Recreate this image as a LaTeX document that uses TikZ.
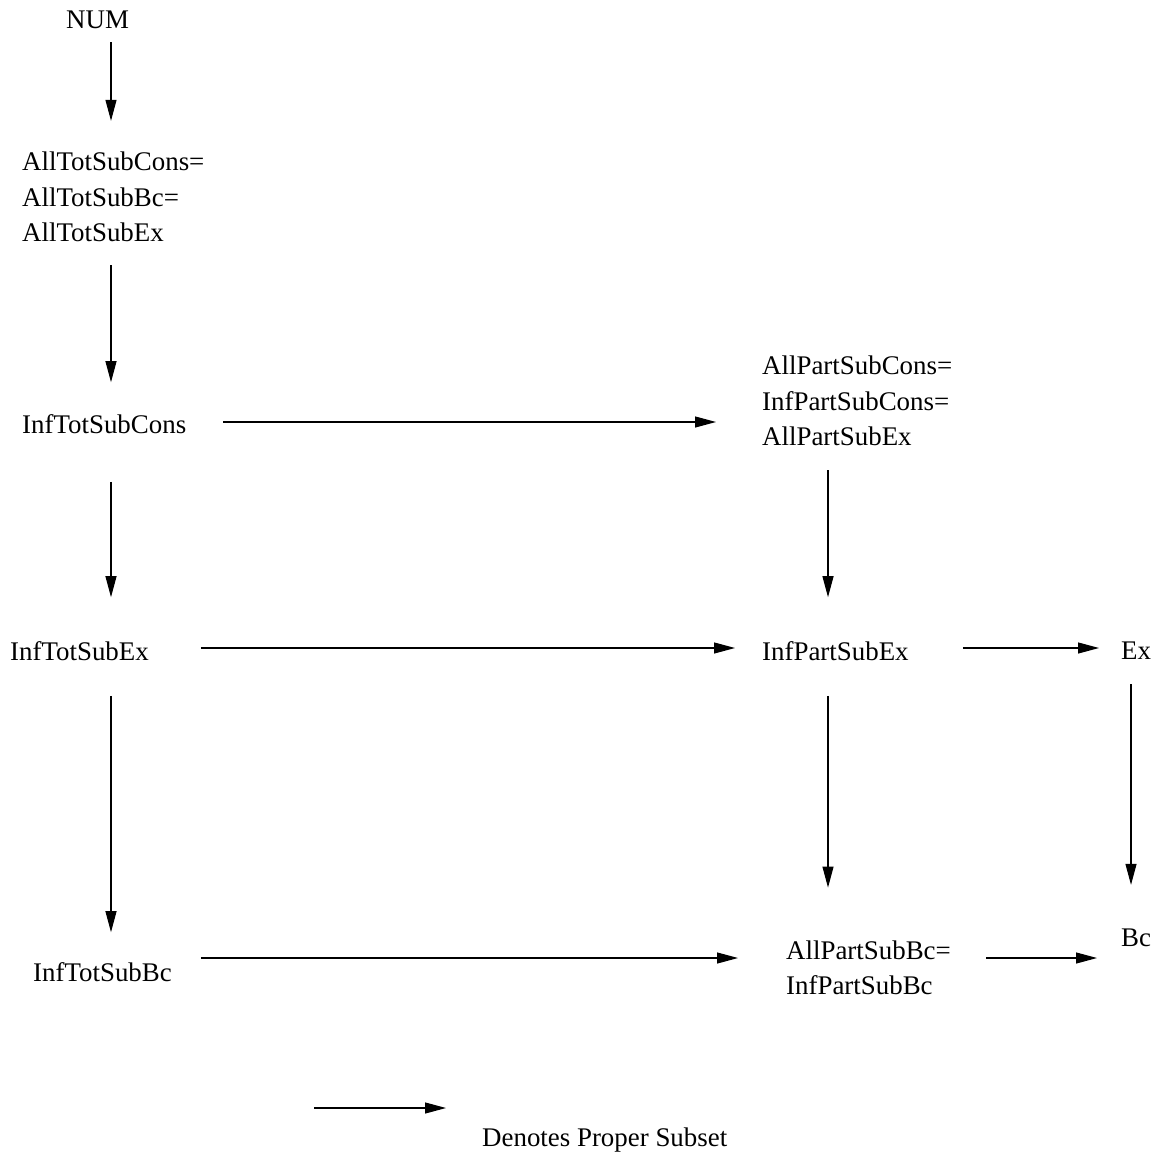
\documentclass[tikz,border=0pt]{standalone}
\usepackage{fontspec}
\setmainfont{Liberation Serif}
\usetikzlibrary{arrows.meta}

\tikzset{
  lbl/.style={anchor=west, inner sep=0pt, align=left, font=\fontsize{26.9}{35.5}\selectfont},
  sub/.style={line width=1.1pt, -{Triangle[length=21pt, width=11pt]}}
}

\begin{document}
\begin{tikzpicture}[x=1pt,y=1pt,yscale=-1,xscale=1]
\useasboundingbox (0,0) rectangle (1156,1158);

%Columns and rows of the connectors
\coordinate (colA) at (111,0);
\coordinate (colB) at (828,0);
\coordinate (colC) at (1131,0);
\coordinate (rowA) at (0,422);
\coordinate (rowB) at (0,648);
\coordinate (rowC) at (0,958);
\coordinate (keyStart) at (314,1108);

% Text Node
\node [lbl] (num) at (66,20) {NUM};
% Text Node
\node [lbl] (allTot) at (22,197) {AllTotSubCons=\\AllTotSubBc=\\AllTotSubEx};
% Text Node
\node [lbl] (infTotCons) at (22,424) {InfTotSubCons};
% Text Node
\node [lbl] (allPart) at (762,401) {AllPartSubCons=\\InfPartSubCons=\\AllPartSubEx};
% Text Node
\node [lbl] (infTotEx) at (10,651) {InfTotSubEx};
% Text Node
\node [lbl] (infPartEx) at (762,651) {InfPartSubEx};
% Text Node
\node [lbl] (ex) at (1121,651) {Ex};
% Text Node
\node [lbl] (infTotBc) at (33,972) {InfTotSubBc};
% Text Node
\node [lbl] (allPartBc) at (786,968) {AllPartSubBc=\\InfPartSubBc};
% Text Node
\node [lbl] (bc) at (1121,938) {Bc};
% Text Node
\node [lbl] (key) at (482,1140) {Denotes Proper Subset};

%Straight Lines
\draw [sub, shorten <=13, shorten >=31] (num.south -| colA) -- (allTot.north -| colA);
\draw [sub, shorten <=23, shorten >=32] (allTot.south -| colA) -- (infTotCons.north -| colA);
\draw [sub, shorten <=48, shorten >=44] (infTotCons.south -| colA) -- (infTotEx.north -| colA);
\draw [sub, shorten <=35, shorten >=30] (infTotEx.south -| colA) -- (infTotBc.north -| colA);
%Straight Lines
\draw [sub, shorten <=24, shorten >=44] (allPart.south -| colB) -- (infPartEx.north -| colB);
\draw [sub, shorten <=35, shorten >=53] (infPartEx.south -| colB) -- (allPartBc.north -| colB);
\draw [sub, shorten <=24, shorten >=44] (ex.south -| colC) -- (bc.north -| colC);
%Straight Lines
\draw [sub, shorten <=37, shorten >=46] (infTotCons.east |- rowA) -- (allPart.west |- rowA);
\draw [sub, shorten <=52, shorten >=27] (infTotEx.east |- rowB) -- (infPartEx.west |- rowB);
\draw [sub, shorten <=54, shorten >=22] (infPartEx.east |- rowB) -- (ex.west |- rowB);
\draw [sub, shorten <=29, shorten >=48] (infTotBc.east |- rowC) -- (allPartBc.west |- rowC);
\draw [sub, shorten <=35, shorten >=24] (allPartBc.east |- rowC) -- (bc.west |- rowC);
%Straight Lines
\draw [sub, shorten >=36] (keyStart) -- (key.west |- keyStart);

\end{tikzpicture}
\end{document}
